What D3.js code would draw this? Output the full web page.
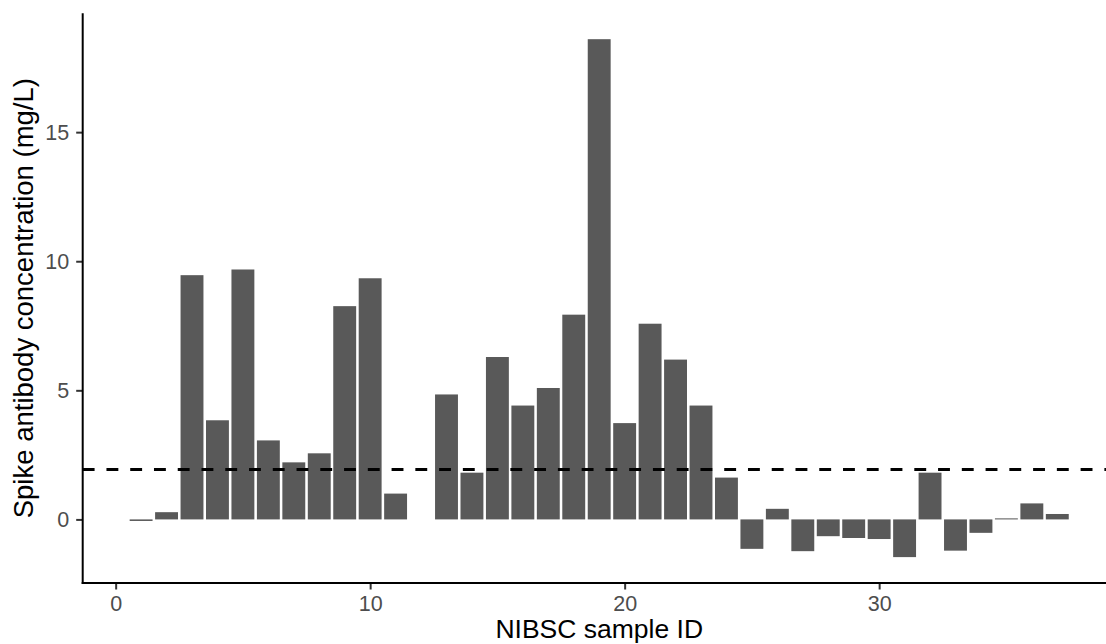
<!DOCTYPE html>
<html>
<head>
<meta charset="utf-8">
<script src="https://cdn.jsdelivr.net/npm/d3@7"></script>
<style>
  html, body { margin: 0; padding: 0; background: #fff; }
  svg { display: block; }
</style>
</head>
<body>
<svg id="chart" width="1106" height="644"></svg>
<script>
// ---- data ----
const sampleIds = [1,2,3,4,5,6,7,8,9,10,11,13,14,15,16,17,18,19,20,21,22,23,24,25,26,27,28,29,30,31,32,33,34,35,36,37];
const concentrations = [-0.06,0.28,9.46,3.84,9.68,3.06,2.21,2.56,8.26,9.34,1.00,4.84,1.81,6.29,4.41,5.09,7.93,18.6,3.73,7.58,6.19,4.41,1.62,-1.14,0.41,-1.23,-0.65,-0.72,-0.76,-1.46,1.81,-1.21,-0.52,0.04,0.62,0.21];
const threshold = 1.93;
const xTicks = [0, 10, 20, 30];
const yTicks = [0, 5, 10, 15];
const xTitle = "NIBSC sample ID";
const yTitle = "Spike antibody concentration (mg/L)";

// ---- layout ----
const svg = d3.select("#chart");
const panel = { left: 82.7, top: 13.3, bottom: 583, right: 1115.7 };
const barWidth = 0.9;
const font = "'Liberation Sans', Arial, Helvetica, sans-serif";

const data = sampleIds.map((id, i) => ({ id, v: concentrations[i] }));

// ggplot-like expansion (5%)
const xMin = d3.min(sampleIds) - barWidth / 2, xMax = d3.max(sampleIds) + barWidth / 2;
const xPad = (xMax - xMin) * 0.05;
const x = d3.scaleLinear().domain([xMin - xPad, xMax + xPad]).range([panel.left, panel.right]);

const yLo = Math.min(0, d3.min(concentrations)), yHi = Math.max(0, d3.max(concentrations));
const yPad = (yHi - yLo) * 0.05;
const y = d3.scaleLinear().domain([yLo - yPad, yHi + yPad]).range([panel.bottom, panel.top]);

// ---- bars ----
svg.append("g").selectAll("rect").data(data).join("rect")
  .attr("x", d => x(d.id - barWidth / 2))
  .attr("width", d => x(d.id + barWidth / 2) - x(d.id - barWidth / 2))
  .attr("y", d => Math.min(y(d.v), y(0)))
  .attr("height", d => Math.max(Math.abs(y(d.v) - y(0)), 0.8))
  .attr("fill", "#595959");

// ---- threshold line ----
svg.append("line")
  .attr("x1", panel.left).attr("x2", panel.right)
  .attr("y1", y(threshold)).attr("y2", y(threshold))
  .attr("stroke", "#000").attr("stroke-width", 3)
  .attr("stroke-dasharray", "11.88,11.88");

// ---- axes ----
const tickLen = 6.5;
const xAxis = svg.append("g").attr("transform", `translate(0,${panel.bottom})`)
  .call(d3.axisBottom(x).tickValues(xTicks).tickSize(tickLen).tickPadding(6).tickFormat(d3.format("d")));
const yAxis = svg.append("g").attr("transform", `translate(${panel.left},0)`)
  .call(d3.axisLeft(y).tickValues(yTicks).tickSize(tickLen).tickPadding(7).tickFormat(d3.format("d")));

[xAxis, yAxis].forEach(g => {
  g.select(".domain").remove();
  g.selectAll(".tick line").attr("stroke", "#333333").attr("stroke-width", 2);
  g.selectAll(".tick text").attr("fill", "#4D4D4D").style("font-family", font).style("font-size", "21.5px");
});

// axis lines
svg.append("line").attr("x1", panel.left).attr("x2", panel.left)
  .attr("y1", panel.top).attr("y2", panel.bottom + 1)
  .attr("stroke", "#000").attr("stroke-width", 2);
svg.append("line").attr("x1", panel.left - 1).attr("x2", panel.right)
  .attr("y1", panel.bottom).attr("y2", panel.bottom)
  .attr("stroke", "#000").attr("stroke-width", 2);

// ---- titles ----
svg.append("text")
  .attr("x", (panel.left + panel.right) / 2)
  .attr("y", 637.5)
  .attr("text-anchor", "middle")
  .style("font-family", font).style("font-size", "26.5px").attr("fill", "#000")
  .text(xTitle);

svg.append("text")
  .attr("transform", `translate(32.5,${(panel.top + panel.bottom) / 2}) rotate(-90)`)
  .attr("text-anchor", "middle")
  .style("font-family", font).style("font-size", "27.5px").attr("fill", "#000")
  .text(yTitle);
</script>
</body>
</html>
